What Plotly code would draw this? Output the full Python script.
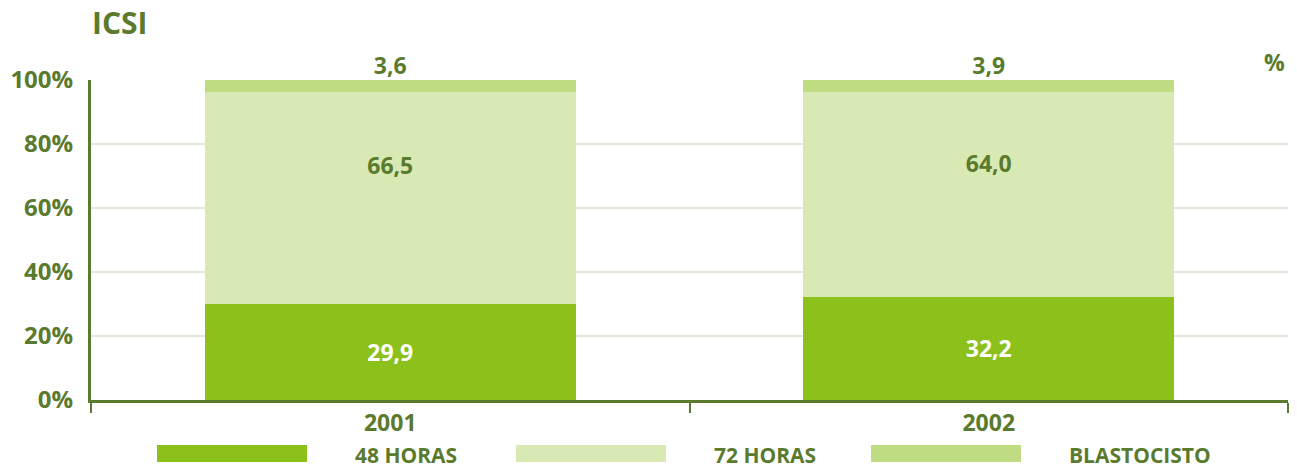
import plotly.graph_objects as go

years = ["2001", "2002"]
h48 = [29.9, 32.2]
h72 = [66.5, 64.0]
blasto = [3.6, 3.9]
series_names = ["48 HORAS", "72 HORAS", "BLASTOCISTO"]
colors = ["#8cc01b", "#d9e9b4", "#c0dc82"]
ytick_vals = [0, 20, 40, 60, 80, 100]
ytick_text = ["0%", "20%", "40%", "60%", "80%", "100%"]

dark = "#5a7a2e"
font_family = "Open Sans"

def fmt(v):
    return "<b>%s</b>" % f"{v:.1f}".replace(".", ",")

fig = go.Figure()
fig.add_bar(x=years, y=h48, name=series_names[0], marker_color=colors[0],
            marker_line_width=0,
            texttemplate="<b>%{y:.1f}</b>", textposition="inside",
            insidetextanchor="middle",
            textfont=dict(color="white", size=23, family=font_family))
fig.add_bar(x=years, y=h72, name=series_names[1], marker_color=colors[1],
            marker_line_width=0, textposition="none")
fig.add_bar(x=years, y=blasto, name=series_names[2], marker_color=colors[2],
            marker_line_width=0, textposition="none")
# labels for 72 HORAS (placed in the upper part of the segment, as in the original)
fig.add_scatter(x=years, y=[a + 0.64 * b for a, b in zip(h48, h72)], mode="text",
                text=[fmt(v) for v in h72], textposition="middle center",
                textfont=dict(color=dark, size=23, family=font_family),
                hoverinfo="skip")
totals = [a + b + c for a, b, c in zip(h48, h72, blasto)]
fig.add_scatter(x=years, y=[min(t, 100) for t in totals], mode="text",
                text=[fmt(v) for v in blasto],
                textposition="top center",
                textfont=dict(color=dark, size=23, family=font_family),
                hoverinfo="skip", cliponaxis=False)

# custom legend
sw_x = [157, 516, 871]
txt_x = [406, 765, 1140]
W, H = 1297, 468
for i, name in enumerate(series_names):
    fig.add_shape(type="rect", xref="paper", yref="paper",
                  x0=(sw_x[i] - 91) / 1197, x1=(sw_x[i] + 150 - 91) / 1197,
                  y0=-(445 - 400) / 320, y1=-(462 - 400) / 320,
                  fillcolor=colors[i], line_width=0)
    fig.add_annotation(xref="paper", yref="paper",
                       x=(txt_x[i] - 91) / 1197, y=-(455 - 400) / 320,
                       text="<b>%s</b>" % name, showarrow=False,
                       font=dict(color=dark, size=21, family=font_family),
                       xanchor="center", yanchor="middle")

fig.add_annotation(xref="paper", yref="paper", x=(90 - 91) / 1197, y=(80 - 22) / 320 + 1,
                   text="<b>ICSI</b>", showarrow=False, xanchor="left", yanchor="middle",
                   font=dict(color=dark, size=30, family=font_family))
fig.add_annotation(xref="paper", yref="paper", x=(1287 - 91) / 1197, y=(80 - 62) / 320 + 1,
                   text="<b>%</b>", showarrow=False, xanchor="right", yanchor="middle",
                   font=dict(color=dark, size=23, family=font_family))

fig.update_layout(
    barmode="stack", bargap=0.38, separators=",.",
    width=W, height=H,
    margin=dict(l=91, r=9, t=80, b=68),
    plot_bgcolor="white", paper_bgcolor="white",
    showlegend=False,
    font=dict(family=font_family, color=dark),
)
fig.update_xaxes(showline=True, linecolor=dark, linewidth=3,
                 tickson="boundaries", ticks="outside", ticklen=10, tickwidth=2,
                 tickcolor=dark, tickfont=dict(size=23, color=dark, family=font_family),
                 tickprefix="<b>", ticksuffix="</b>", showgrid=False)
fig.update_yaxes(range=[0, 100], tickvals=ytick_vals, ticktext=["<b>%s</b>" % t for t in ytick_text],
                 showline=True, linecolor=dark, linewidth=3, ticks="",
                 showgrid=True, gridcolor="#e1e7d9", gridwidth=2, zeroline=False,
                 tickfont=dict(size=24, color=dark, family=font_family), ticklabelstandoff=10)

fig.write_html("out.html", config={"displayModeBar": False},
               post_script="document.body.style.margin='0';")
